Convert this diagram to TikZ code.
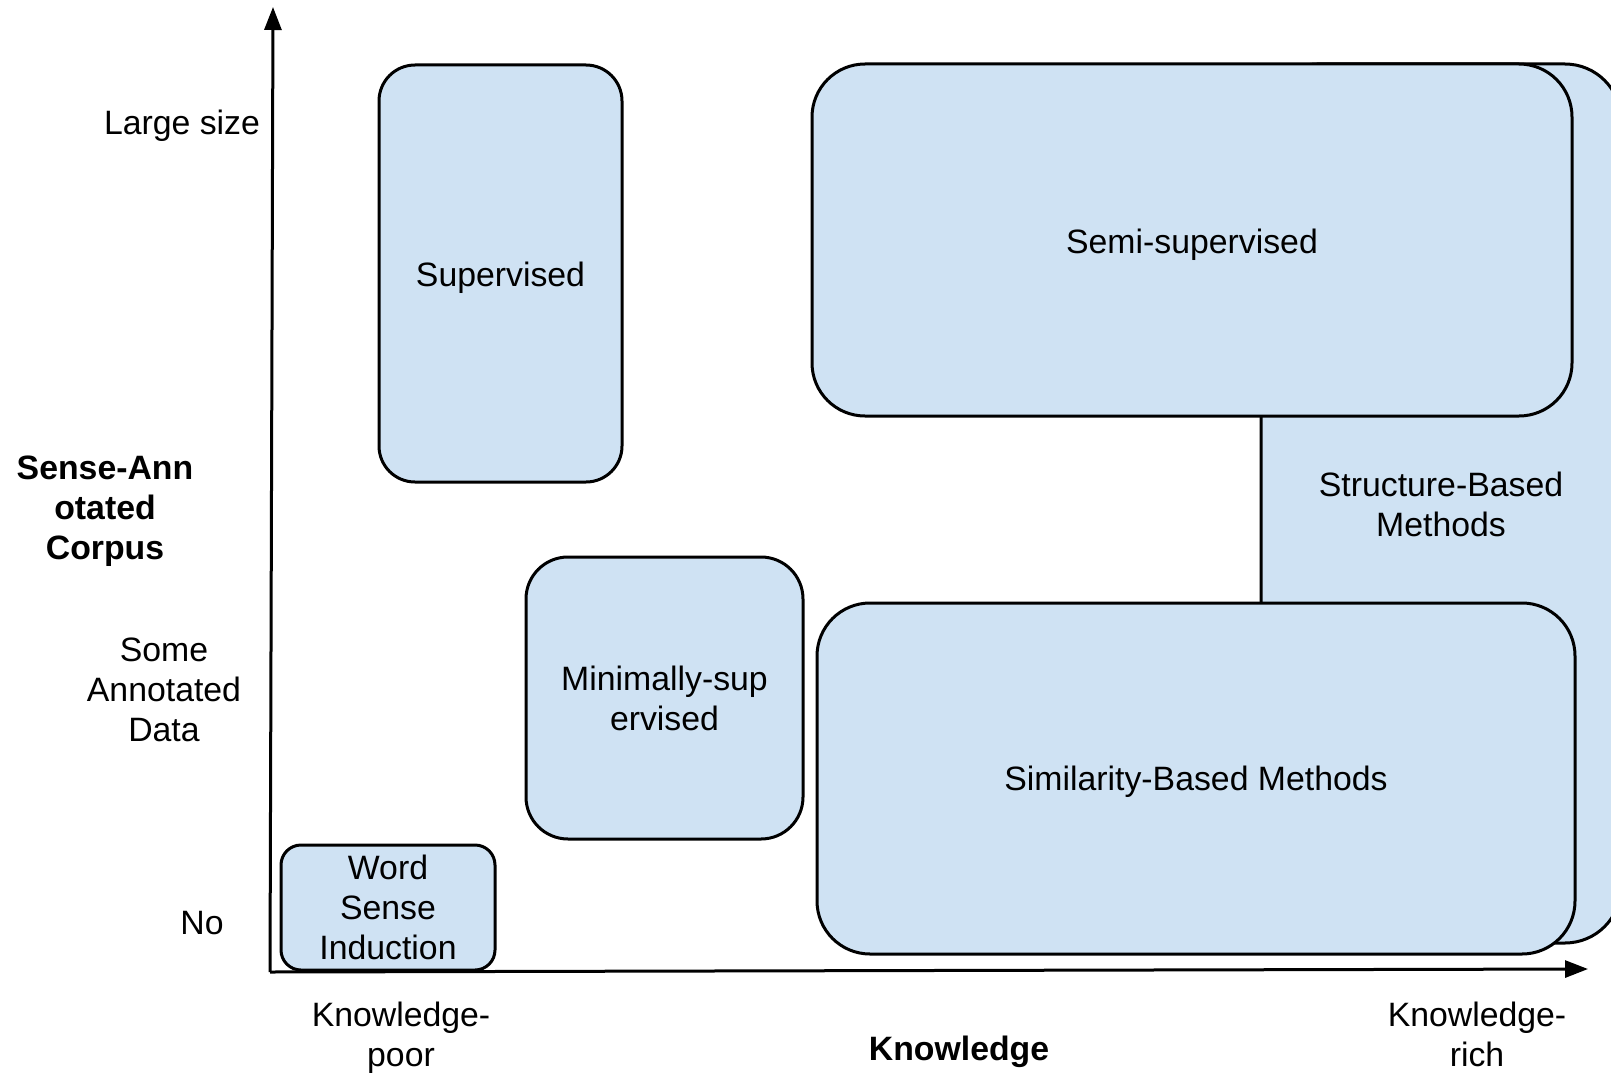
\documentclass[tikz,border=0pt]{standalone}
\usepackage{fontspec}
\setmainfont{Liberation Sans}
\usetikzlibrary{arrows.meta}
\definecolor{boxfill}{HTML}{CFE2F3}
\newcommand{\lbl}{\fontsize{33.8}{40}\selectfont}
\tikzset{
  method/.style={draw=black, line width=3pt, fill=boxfill, rounded corners=#1,
    inner sep=0pt},
  lab/.style={align=center, font=\lbl, inner sep=0pt},
  boldlab/.style={align=center, font=\lbl\bfseries, inner sep=0pt},
  axis/.style={line width=3pt, -{Triangle[width=17pt,length=23pt]}}
}
\begin{document}
\begin{tikzpicture}[x=1pt,y=-1pt]
  \useasboundingbox (0,0) rectangle (1611,1073);
  \clip (0,0) rectangle (1611,1073);

  % axes
  \coordinate (origin) at (270,972);
  \coordinate (ytip) at (273,7);
  \coordinate (xtip) at (1588,969);
  \draw[axis] (origin) -- (ytip);
  \draw[axis] (origin) -- (xtip);

  % background method (extends past the right edge)
  \node[method=56pt, minimum width=360pt, minimum height=879pt]
    (struct) at (1441,503.5) {};

  % methods
  \node[method=36pt, minimum width=243pt, minimum height=417pt]
    (sup) at (500.5,273.5) {};
  \node[method=42pt, minimum width=277pt, minimum height=282pt]
    (minsup) at (664.5,698) {};
  \node[method=20pt, minimum width=214pt, minimum height=125pt]
    (wsi) at (388,907.5) {};
  \node[method=53pt, minimum width=760pt, minimum height=352pt]
    (semi) at (1192,240) {};
  \node[method=53pt, minimum width=758pt, minimum height=351pt]
    (sim) at (1196,778.5) {};

  % method names
  \node[lab] (structtxt) at ([yshift=-1pt]struct.center) {Structure-Based\\Methods};
  \node[lab] (suptxt) at ([yshift=-4pt]sup.center) {Supervised};
  \node[lab] (minsuptxt) at (minsup.center) {Minimally-sup\\ervised};
  \node[lab] (wsitxt) at (wsi.center) {Word\\Sense\\Induction};
  \node[lab] (semitxt) at ([yshift=-5pt]semi.center) {Semi-supervised};
  \node[lab] (simtxt) at ([yshift=-3pt]sim.center) {Similarity-Based Methods};

  % axis labels
  \node[lab] (large) at (182,126) {Large size};
  \node[boldlab] (corpus) at (105,511) {Sense-Ann\\otated\\Corpus};
  \node[lab] (some) at (164,690) {Some\\Annotated\\Data};
  \node[lab] (no) at (202,923) {No};
  \node[lab] (poor) at (401,1038) {Knowledge-\\poor};
  \node[boldlab] (know) at (959,1052) {Knowledge};
  \node[lab] (rich) at (1477,1034) {Knowledge-\\rich};
\end{tikzpicture}
\end{document}
